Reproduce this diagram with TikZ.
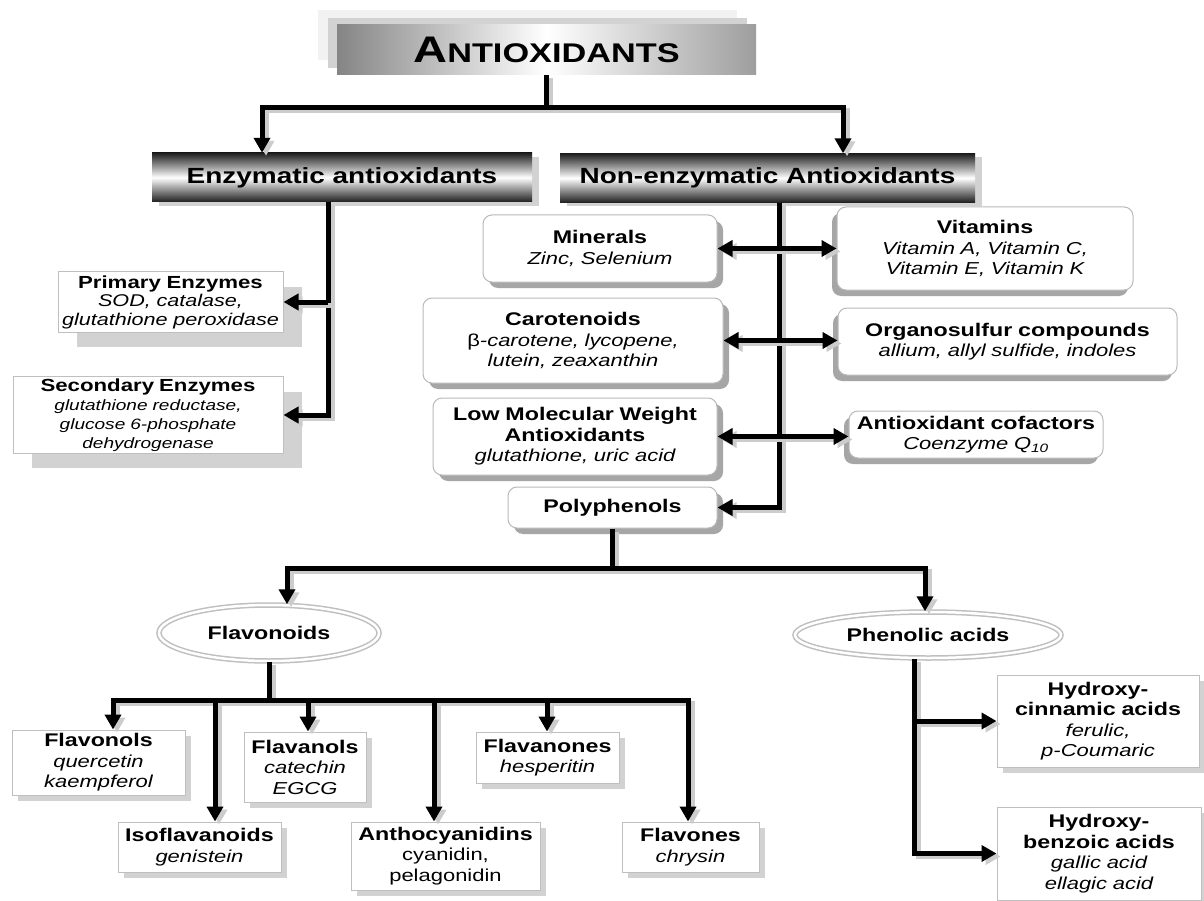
\documentclass[tikz,border=0pt]{standalone}
\usepackage{fontspec}
\setmainfont{Liberation Sans}[FakeStretch=1.27]
\usetikzlibrary{arrows.meta,shadows,shapes.geometric,calc}
\newcommand\Bx[1]{{\fontsize{18.3}{20.5}\selectfont\bfseries #1}}
\newcommand\Bs[1]{{\fontsize{17.5}{18.5}\selectfont\bfseries #1}}
\newcommand\Ix[1]{{\itshape #1}}
% connector with a grey offset shadow: \cnx[opts]{from}{operation}{to}
\newcommand\cnx[4][]{%
  \draw[lineshadow,#1] ($(#2)+(4pt,-3pt)$) #3 ($(#4)+(4pt,-3pt)$);%
  \draw[conn,#1] (#2) #3 (#4);}
\tikzset{
  conn/.style={line width=5pt, draw=black},
  lineshadow/.style={line width=5pt, draw=gray!40},
  tip/.style={-{Triangle[length=15pt,width=16pt]}},
  dtip/.style={{Triangle[length=15pt,width=16pt]}-{Triangle[length=15pt,width=16pt]}},
  wh/.style 2 args={text width=#1pt, minimum height=#2pt, inner xsep=0pt, inner ysep=2pt, align=center},
  rbox/.style={draw=gray!55, line width=1pt, rounded corners=9pt, fill=white, font=\fontsize{17.3}{20.5}\selectfont,
    drop shadow={shadow xshift=6pt, shadow yshift=-6pt, fill=gray!70, opacity=1}},
  lbox/.style={draw=gray!55, line width=1pt, rounded corners=9pt, fill=white, font=\fontsize{17.3}{20.5}\selectfont,
    drop shadow={shadow xshift=-5pt, shadow yshift=-6pt, fill=gray!70, opacity=1}},
  sbox/.style={draw=gray!50, line width=1pt, fill=white, font=\fontsize{17.3}{20.5}\selectfont,
    drop shadow={shadow xshift=6pt, shadow yshift=-6pt, fill=gray!35, opacity=1}},
  ebox/.style={draw=gray!50, line width=1pt, fill=white, font=\fontsize{17}{18.5}\selectfont,
    drop shadow={shadow xshift=19pt, shadow yshift=-15pt, fill=gray!35, opacity=1}},
  header/.style={minimum height=49pt, top color=black!88, bottom color=black!88, middle color=white,
    font=\fontsize{22}{24}\selectfont\bfseries,
    drop shadow={shadow xshift=7pt, shadow yshift=-4pt, fill=gray!35, opacity=1}},
  titlebox/.style={minimum width=419pt, minimum height=50pt, left color=black!48, right color=black!38, middle color=white,
    font=\bfseries,
    drop shadow={shadow xshift=-19pt, shadow yshift=15pt, fill=gray!10, opacity=1},
    drop shadow={shadow xshift=-9pt, shadow yshift=7pt, fill=gray!35, opacity=1}},
  oval/.style={ellipse, draw=gray!50, double=white, double distance=2.5pt, line width=1.5pt, fill=white,
    font=\fontsize{18.3}{20}\selectfont\bfseries, inner sep=0pt},
}
\begin{document}
\begin{tikzpicture}[x=1pt,y=-1pt]
\useasboundingbox (0,0) rectangle (1204,901);
\fill[white] (0,0) rectangle (1204,901);

% nodes
\node[titlebox] (title) at (546.5,50) {{\fontsize{37}{40}\selectfont A}{\fontsize{27}{30}\selectfont NTIOXIDANTS}};
\node[header, minimum width=380pt] (enz) at (342,177.5) {Enzymatic antioxidants};
\node[header, minimum width=415pt] (nenz) at (767.5,178) {Non-enzymatic Antioxidants};

\node[ebox, wh={225}{60}] (prim) at (170.5,302) {\Bs{Primary Enzymes}\\\Ix{SOD, catalase,}\\\Ix{glutathione peroxidase}};
\node[ebox, wh={270}{74}, font=\fontsize{15}{19}\selectfont] (sec) at (148,415) {{\fontsize{17.5}{19}\selectfont\bfseries Secondary Enzymes}\\\Ix{glutathione reductase,}\\\Ix{glucose 6-phosphate}\\\Ix{dehydrogenase}};

\node[rbox, wh={234}{67}] (min) at (600,248.5) {\Bx{Minerals}\\\Ix{Zinc, Selenium}};
\node[lbox, wh={296}{83}] (vit) at (985,248.5) {\Bx{Vitamins}\\\Ix{Vitamin A, Vitamin C,}\\\Ix{Vitamin E, Vitamin K}};
\node[rbox, wh={300}{85}] (car) at (573,340.5) {\Bx{Carotenoids}\\β\Ix{-carotene, lycopene,}\\\Ix{lutein, zeaxanthin}};
\node[lbox, wh={339}{67}] (org) at (1007.5,341.5) {\Bx{Organosulfur compounds}\\\Ix{allium, allyl sulfide, indoles}};
\node[rbox, wh={284}{77}] (lmw) at (575,436.5) {\Bx{Low Molecular Weight}\\\Bx{Antioxidants}\\\Ix{glutathione, uric acid}};
\node[lbox, wh={254}{47}] (cof) at (976,434.5) {\Bx{Antioxidant cofactors}\\\Ix{Coenzyme Q\textsubscript{10}}};
\node[rbox, wh={209}{41}] (poly) at (612.5,507.5) {\Bx{Polyphenols}};

\node[oval, minimum width=220pt, minimum height=56pt] (flav) at (269,633) {Flavonoids};
\node[oval, minimum width=266pt, minimum height=46pt] (phen) at (928,635) {Phenolic acids};

\node[sbox, wh={173}{65}] (fnol) at (98.5,762.5) {\Bx{Flavonols}\\\Ix{quercetin}\\\Ix{kaempferol}};
\node[sbox, wh={122}{70}] (fanol) at (305,767) {\Bx{Flavanols}\\\Ix{catechin}\\\Ix{EGCG}};
\node[sbox, wh={143}{51}] (fnone) at (547.5,757.5) {\Bx{Flavanones}\\\Ix{hesperitin}};
\node[sbox, wh={163}{50}] (iso) at (199.5,847) {\Bx{Isoflavanoids}\\\Ix{genistein}};
\node[sbox, wh={189}{68}] (anth) at (445.5,856) {\Bx{Anthocyanidins}\\cyanidin,\\pelagonidin};
\node[sbox, wh={137}{50}] (fone) at (690.5,847) {\Bx{Flavones}\\\Ix{chrysin}};

\node[sbox, wh={202}{92}] (hc) at (1098,721) {\Bx{Hydroxy-}\\\Bx{cinnamic acids}\\\Ix{ferulic,}\\\Ix{p-Coumaric}};
\node[sbox, wh={204}{93}] (hb) at (1099,853.5) {\Bx{Hydroxy-}\\\Bx{benzoic acids}\\\Ix{gallic acid}\\\Ix{ellagic acid}};

% coordinates
\coordinate (top) at (546.5,108);
\coordinate (ea) at (262,0);
\coordinate (na) at (843,0);
\coordinate (et) at (328,0);
\coordinate (nt) at (779,0);
\coordinate (pb) at (612.5,568);
\coordinate (fa) at (287,0);
\coordinate (pa) at (925,0);
\coordinate (fb) at (269,700);
\coordinate (x1) at (113,700);
\coordinate (x2) at (215,700);
\coordinate (x3) at (308,700);
\coordinate (x4) at (434,700);
\coordinate (x5) at (547,700);
\coordinate (x6) at (688,700);
\coordinate (pt) at (914,0);

% connectors
\cnx{title.south}{--}{top}
\cnx[tip]{top}{-|}{enz.north -| ea}
\cnx[tip]{top}{-|}{nenz.north -| na}

\cnx[tip]{enz.south -| et}{|-}{sec.east}
\cnx[tip]{prim.east -| et}{--}{prim.east}

\cnx[tip]{nenz.south -| nt}{|-}{poly.east}
\cnx[dtip]{min.east}{--}{min.east -| vit.west}
\cnx[dtip]{car.east}{--}{car.east -| org.west}
\cnx[dtip]{lmw.east}{--}{lmw.east -| cof.west}

\cnx{poly.south}{--}{pb}
\cnx[tip]{pb}{-|}{flav.north -| fa}
\cnx[tip]{pb}{-|}{phen.north -| pa}

\cnx{flav.south}{--}{fb}
\cnx[tip]{fb}{-|}{fnol.north -| x1}
\cnx[tip]{fb}{-|}{fone.north -| x6}
\cnx[tip]{x2}{--}{x2 |- iso.north}
\cnx[tip]{x3}{--}{x3 |- fanol.north}
\cnx[tip]{x4}{--}{x4 |- anth.north}
\cnx[tip]{x5}{--}{x5 |- fnone.north}

\cnx[tip]{phen.south -| pt}{|-}{hb.west}
\cnx[tip]{hc.west -| pt}{--}{hc.west}
\end{tikzpicture}
\end{document}
